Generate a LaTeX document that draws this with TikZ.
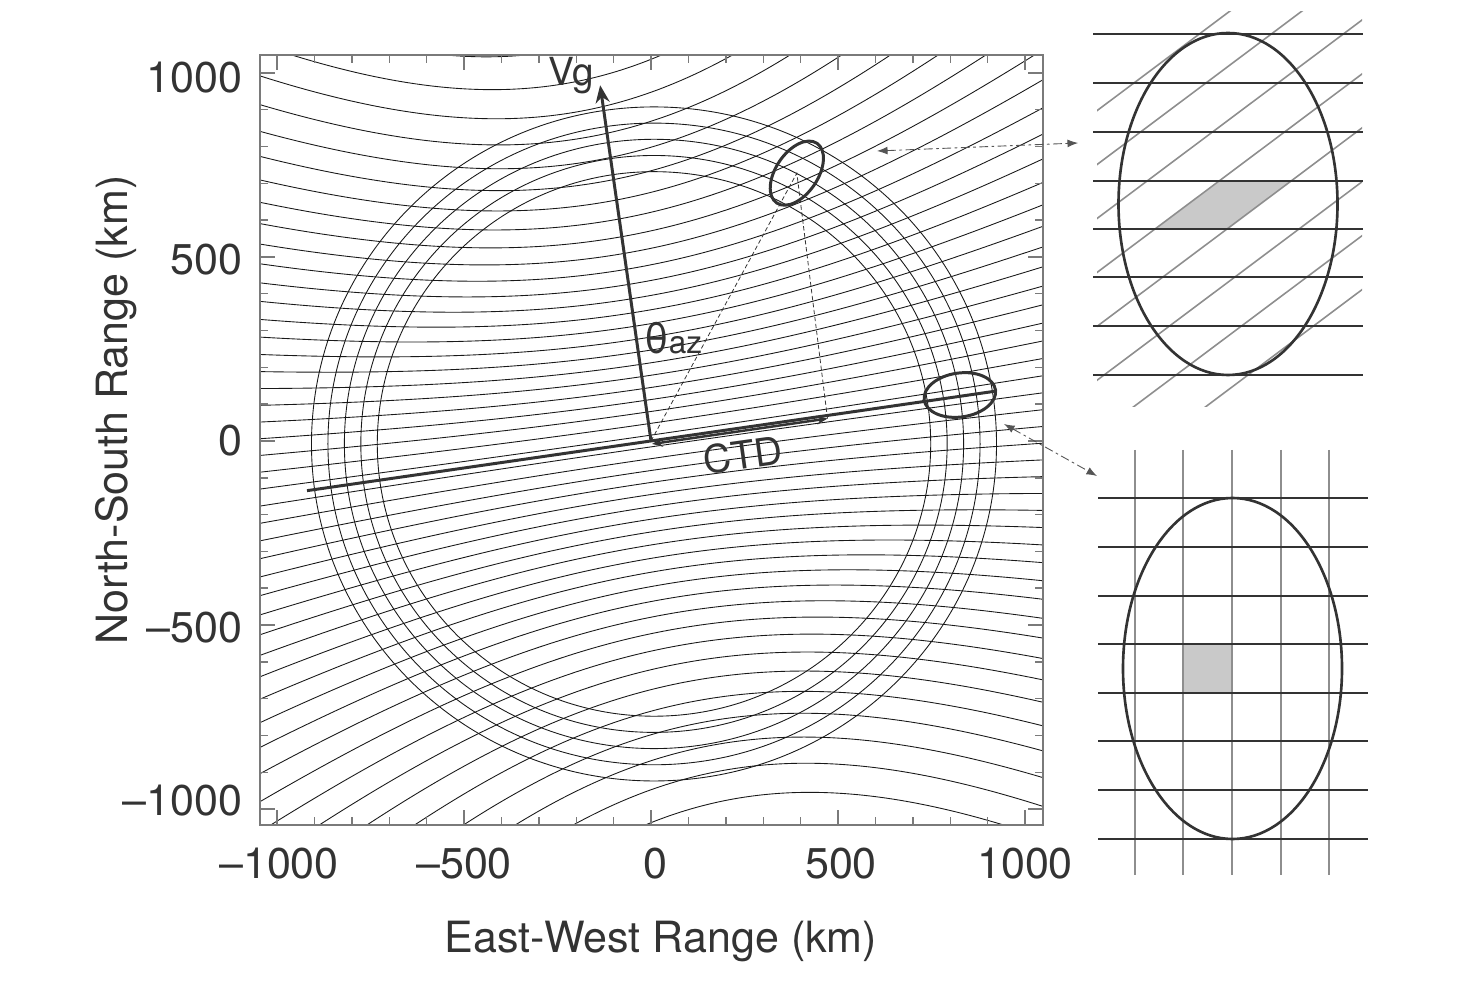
\documentclass[tikz,border=0pt]{standalone}
\usepackage{fontspec}
\setmainfont{TeX Gyre Heros}
\usetikzlibrary{arrows.meta}
\definecolor{ink}{HTML}{333333}
\definecolor{axisgray}{HTML}{7A7A7A}
\definecolor{litegray}{HTML}{8E8E8E}
\definecolor{cellfill}{HTML}{C9C9C9}
\definecolor{conngray}{HTML}{555555}
\begin{document}
\begin{tikzpicture}[x=0.02cm,y=0.02cm,
  iso/.style={line width=0.5pt, black!90},
  axisline/.style={line width=0.9pt, axisgray},
  tickline/.style={line width=0.8pt, axisgray},
  lab/.style={font=\fontsize{24.5}{29}\selectfont, text=ink, inner sep=0pt},
  smalllab/.style={font=\fontsize{22}{26}\selectfont, text=ink, inner sep=0pt},
  boldline/.style={line width=1.7pt, ink},
  guide/.style={line width=0.45pt, ink, dash pattern=on 2.5pt off 1.5pt},
  conn/.style={line width=0.5pt, conngray, dash pattern=on 5pt off 2pt on 1.5pt off 2pt,
     {Latex[length=6pt,width=4.5pt]}-{Latex[length=6pt,width=4.5pt]}},
  hline/.style={line width=1.1pt, ink},
  gline/.style={line width=0.9pt, litegray},
  insetell/.style={line width=1.5pt, ink}
]
\useasboundingbox (0,0) rectangle (1473,-982);

% ---------- iso-Doppler lines and range rings ----------
\begin{scope}
\clip (260,-55) rectangle (1043,-825);
\begin{scope}[shift={(651,-441)}, x=7.48cm, y=7.36cm]
\foreach \n in {-26,...,25}{
  \pgfmathsetmacro\ff{(\n+0.5)*0.032}
  \pgfmathsetmacro\KK{\ff/sqrt(1-\ff*\ff)}
  \pgfmathsetmacro\BB{0.147+0.24*\KK*\KK}
  \draw[iso] plot[domain=-1.06:1.06, samples=60, smooth] (\x,{\KK*sqrt(\x*\x+1)+\BB*\x});
}
\foreach \r in {0.740,0.784,0.828,0.872,0.916}
  \draw[iso] (0.008,-0.008) circle[radius=\r];
\end{scope}
\end{scope}

% ---------- frame and ticks ----------
\draw[axisline] (260,-55) rectangle (1043,-825);
\foreach \k in {-10,...,10}{
  \pgfmathsetmacro\tx{651+37.4*\k}
  \pgfmathsetmacro\ty{-441+36.8*\k}
  \pgfmathsetmacro\len{ifthenelse(mod(abs(\k),5)==0,15,8)}
  \draw[tickline] (\tx,-825) -- ++(0,\len);
  \draw[tickline] (\tx,-55) -- ++(0,-\len);
  \draw[tickline] (260,\ty) -- ++(\len,0);
  \draw[tickline] (1043,\ty) -- ++(-\len,0);
}

% tick labels
\node[lab, anchor=base] (xl1) at (279,-878) {–1000};
\node[lab, anchor=base] (xl2) at (464,-878) {–500};
\node[lab, anchor=base] (xl3) at (655,-878) {0};
\node[lab, anchor=base] (xl4) at (841,-878) {500};
\node[lab, anchor=base] (xl5) at (1025,-878) {1000};
\node[lab, anchor=base east] (yl1) at (243,-93) {1000};
\node[lab, anchor=base east] (yl2) at (243,-275) {500};
\node[lab, anchor=base east] (yl3) at (243,-456) {0};
\node[lab, anchor=base east] (yl4) at (243,-642) {–500};
\node[lab, anchor=base east] (yl5) at (243,-815) {–1000};
\node[lab, anchor=base] (xtitle) at (661,-952) {East-West Range (km)};
\node[lab, anchor=base, rotate=90] (ytitle) at (127,-410) {North-South Range (km)};

% ---------- geometry in km (units of 1000 km) ----------
\begin{scope}[shift={(651,-441)}, x=7.48cm, y=7.36cm]
\coordinate (O) at (0,0);
\coordinate (VgTip) at (-0.136,0.967);
\coordinate (ctdL) at (-0.920,-0.135);
\coordinate (ctdR) at (0.925,0.136);
\coordinate (arrL) at (0.003,-0.008);
\coordinate (arrR) at (0.472,0.061);
\coordinate (e1) at (0.390,0.728);
\coordinate (e2) at (0.826,0.125);
\end{scope}

\draw[boldline] (ctdL) -- (ctdR);
\draw[boldline, line width=1.4pt, {Stealth[length=6pt,width=5pt]}-{Stealth[length=6pt,width=5pt]}] (arrL) -- (arrR);
\draw[boldline, -{Stealth[length=10pt,width=8pt]}] (O) -- (VgTip);
\draw[guide] (O) -- (e1) -- (arrR);
\draw[boldline, rotate around={56:(e1)}] (e1) ellipse[x radius=36, y radius=21];
\draw[boldline, rotate around={8:(e2)}] (e2) ellipse[x radius=36, y radius=22];

\node[smalllab, anchor=base west] (vglab) at (548,-86) {Vg};
\node[inner sep=0pt, text=ink, anchor=base west] (thlab) at (644,-354)
  {{\fontsize{24}{28}\selectfont θ}{\fontsize{18}{21}\selectfont az}};
\node[smalllab, rotate=8] (ctdlab) at (743,-455) {CTD};

% ---------- connectors to insets ----------
\coordinate (c1a) at (877,-151);
\coordinate (c1b) at (1078,-143);
\coordinate (c2a) at (1004,-424);
\coordinate (c2b) at (1097,-476);
\draw[conn] (c1a) -- (c1b);
\draw[conn] (c2a) -- (c2b);

% ---------- upper inset ----------
\fill[cellfill] (1155,-229) -- (1227,-229) -- (1292,-181) -- (1220,-181) -- cycle;
\begin{scope}
\clip (1097,-12) rectangle (1362,-407);
\foreach \k in {-3,...,4}{
  \pgfmathsetmacro\cx{1155+72*\k}
  \draw[gline] (\cx-400,-229-299.6) -- (\cx+400,-229+299.6);
}
\end{scope}
\foreach \yy in {34,83,132,181,229,277,326,375}
  \draw[hline] (1093,-\yy) -- (1363,-\yy);
\draw[insetell] (1228,-204) ellipse[x radius=109.5, y radius=171];

% ---------- lower inset ----------
\fill[cellfill] (1183,-644) rectangle (1232,-693);
\foreach \xx in {1135,1183,1232,1281,1329}
  \draw[gline] (\xx,-450) -- (\xx,-875);
\foreach \yy in {498,547,596,644,693,741,790,839}
  \draw[hline] (1098,-\yy) -- (1368,-\yy);
\draw[insetell] (1232.5,-668.5) ellipse[x radius=109.5, y radius=170.5];
\end{tikzpicture}
\end{document}
